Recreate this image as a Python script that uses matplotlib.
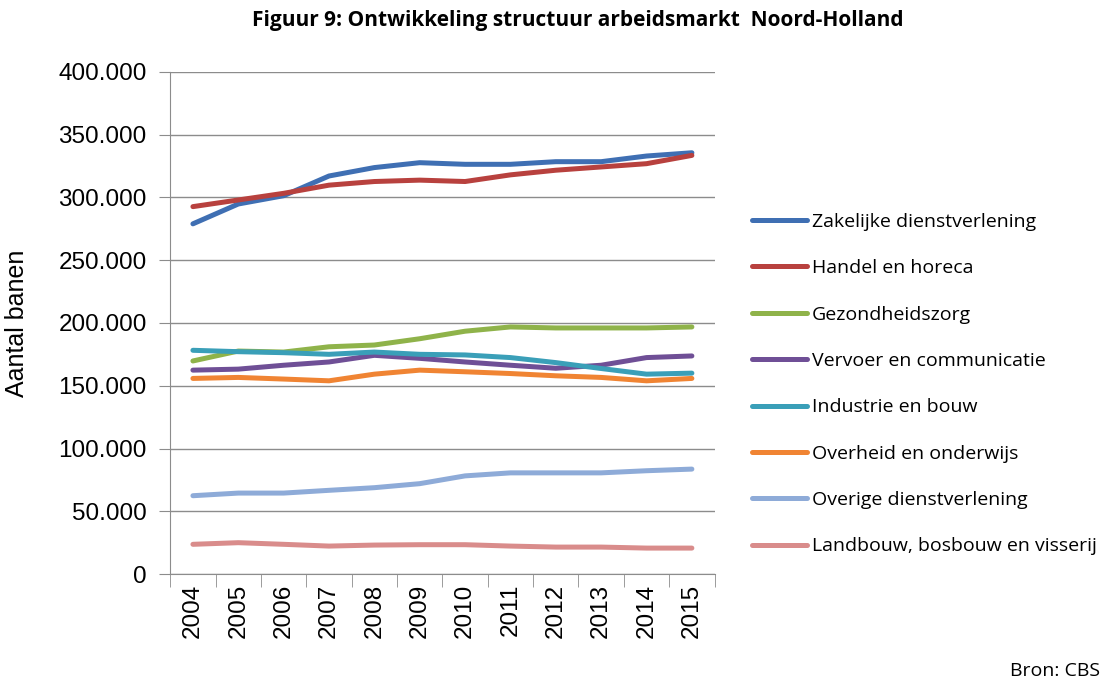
import matplotlib
matplotlib.use("Agg")
import matplotlib.pyplot as plt
from matplotlib.ticker import FuncFormatter, MultipleLocator

years = [str(y) for y in range(2004, 2016)]

zakelijke = [278900, 294700, 301300, 317000, 323700, 327600, 326300, 326300, 328400, 328400, 332900, 335500]
handel = [292600, 297900, 303200, 309700, 312600, 313700, 312600, 317900, 321600, 324200, 326800, 333400]
gezondheid = [169700, 177600, 176800, 181000, 182400, 187400, 193400, 196800, 196000, 196000, 196000, 196800]
vervoer = [162400, 163200, 166300, 168900, 174200, 171800, 168900, 166300, 163900, 166300, 172400, 173700]
industrie = [178200, 177100, 176300, 175000, 176800, 175000, 174500, 172400, 168400, 163700, 159200, 160000]
overheid = [155800, 156600, 155300, 153900, 159200, 162400, 161100, 159700, 157900, 156600, 153900, 155800]
overige = [62400, 64500, 64500, 66700, 68800, 72000, 78200, 80600, 80600, 80600, 82300, 83600]
landbouw = [23700, 25000, 23700, 22300, 23100, 23400, 23400, 22300, 21500, 21500, 20700, 20700]

series = [
    ("Zakelijke dienstverlening", zakelijke, "#3f6fb3"),
    ("Handel en horeca", handel, "#b8413e"),
    ("Gezondheidszorg", gezondheid, "#8fb34a"),
    ("Vervoer en communicatie", vervoer, "#6f4f96"),
    ("Industrie en bouw", industrie, "#3a9fb8"),
    ("Overheid en onderwijs", overheid, "#f08433"),
    ("Overige dienstverlening", overige, "#8eabd8"),
    ("Landbouw, bosbouw en visserij", landbouw, "#d98c8b"),
]

fig = plt.figure(figsize=(11.2, 6.9), dpi=100)
ax = fig.add_axes([0.152, 0.168, 0.486, 0.728])

x = list(range(len(years)))
for name, vals, col in series:
    ax.plot(x, vals, color=col, lw=3.6, label=name, solid_joinstyle="round",
            solid_capstyle="round")

ax.set_xlim(-0.5, len(years) - 0.5)
ax.set_ylim(0, 400000)
ax.yaxis.set_major_locator(MultipleLocator(50000))
ax.yaxis.set_major_formatter(FuncFormatter(lambda v, p: f"{int(v):,}".replace(",", ".")))
ax.grid(axis="y", color="#8c8c8c", lw=1)
ax.set_axisbelow(True)

ax.set_xticks(x)
ax.set_xticklabels(years, rotation=90, fontsize=17.5, family="Liberation Sans")
ax.set_xticks([i - 0.5 for i in range(len(years) + 1)], minor=True)
ax.tick_params(axis="x", which="major", length=0, pad=7)
ax.tick_params(axis="x", which="minor", length=9, color="#8c8c8c")
ax.tick_params(axis="y", length=8, color="#8c8c8c", labelsize=17.5, pad=9)
for lbl in ax.get_yticklabels():
    lbl.set_family("Liberation Sans")

for s in ["top", "right"]:
    ax.spines[s].set_visible(False)
for s in ["left", "bottom"]:
    ax.spines[s].set_color("#8c8c8c")

ax.set_ylabel("Aantal banen", fontsize=18, family="Liberation Sans", labelpad=21)

fig.text(0.516, 0.97, "Figuur 9: Ontwikkeling structuur arbeidsmarkt  Noord-Holland",
         ha="center", va="center", fontsize=15, fontweight="bold", family="Open Sans")
fig.text(0.982, 0.028, "Bron: CBS", ha="right", va="center", fontsize=14, family="Open Sans")

fig.legend(loc="upper left", bbox_to_anchor=(0.656, 0.717), frameon=False,
           handlelength=2.8, labelspacing=1.46, handletextpad=0.25,
           prop={"family": "Open Sans", "size": 14})

fig.savefig("out.png", dpi=100)
